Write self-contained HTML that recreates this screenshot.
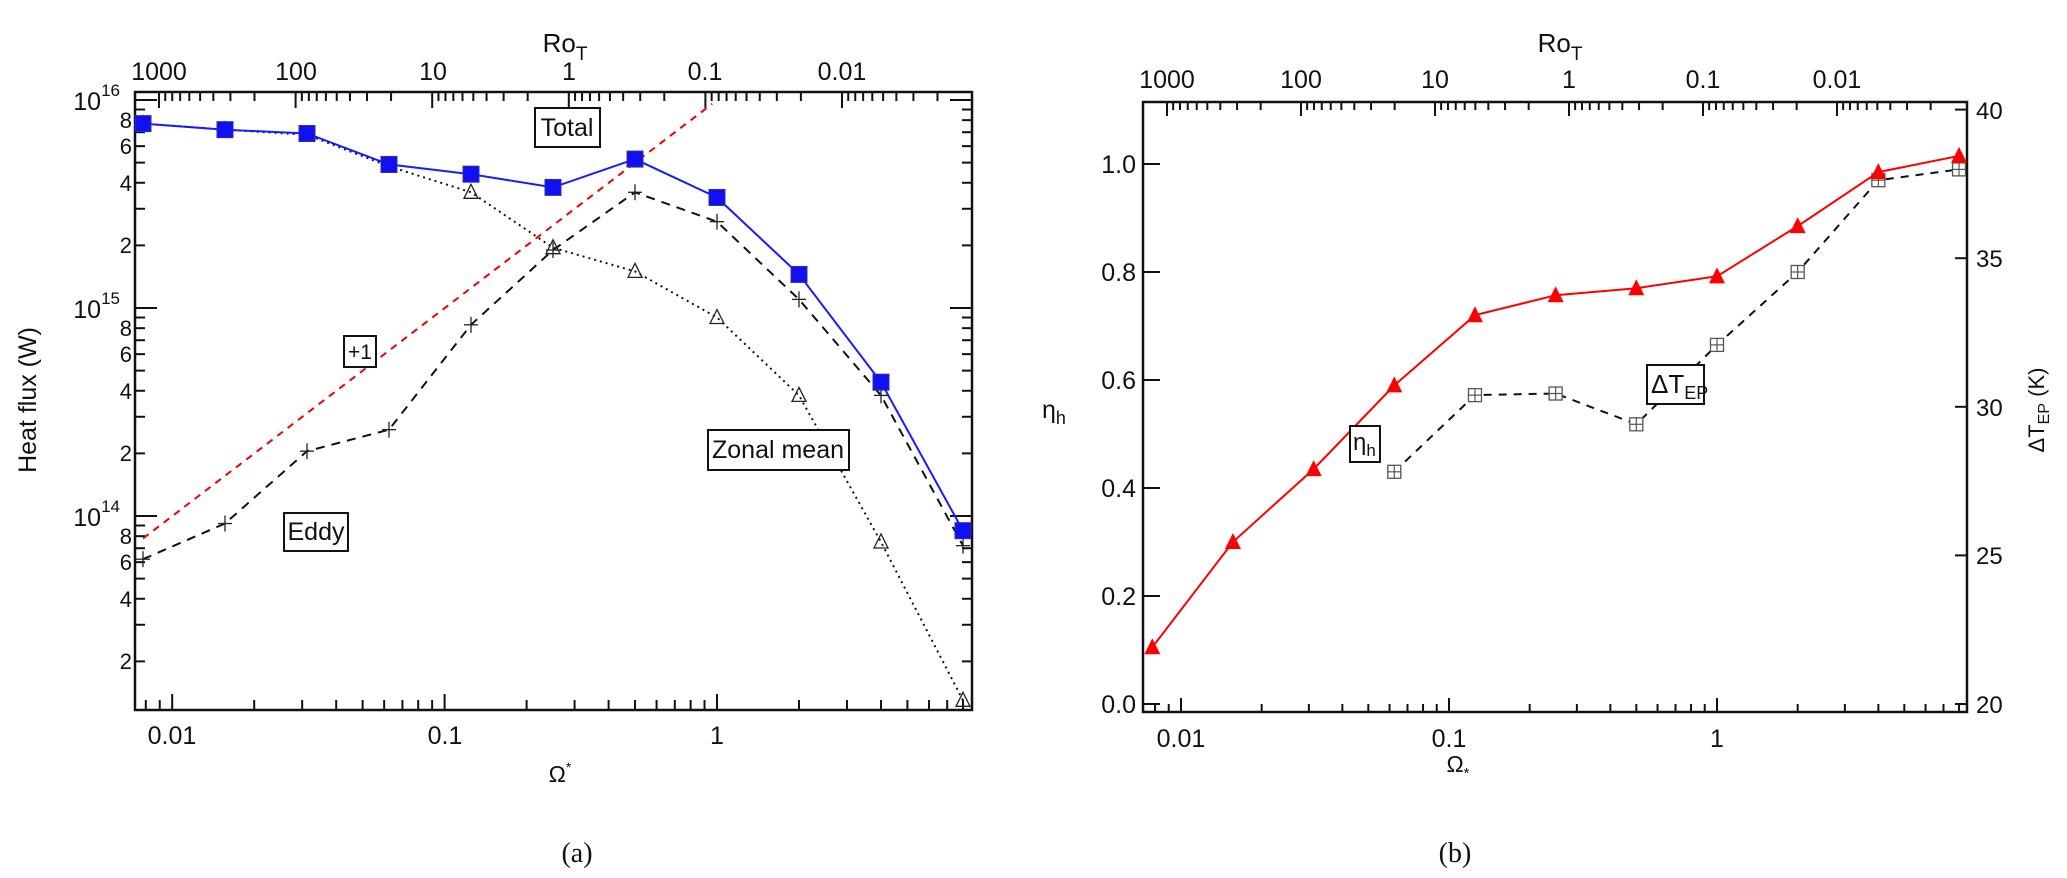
<!DOCTYPE html>
<html><head><meta charset="utf-8"><style>
html,body{margin:0;padding:0;background:#fff;}
svg{display:block;font-family:"Liberation Sans",sans-serif;}
</style></head><body>
<svg id="s" width="2067" height="878" viewBox="0 0 2067 878" xmlns="http://www.w3.org/2000/svg">
<rect width="2067" height="878" fill="#fff"/>
<g id="g"></g>
<g font-size="25" fill="#111">
<!-- LEFT PLOT text -->
<text x="565" y="52" text-anchor="middle" font-size="26">Ro<tspan font-size="19" dy="8">T</tspan></text>
<text x="159" y="80" text-anchor="middle">1000</text>
<text x="296" y="80" text-anchor="middle">100</text>
<text x="433" y="80" text-anchor="middle">10</text>
<text x="569" y="80" text-anchor="middle">1</text>
<text x="705" y="80" text-anchor="middle">0.1</text>
<text x="842" y="80" text-anchor="middle">0.01</text>
<text x="120" y="110" text-anchor="end">10<tspan font-size="17" dy="-14">16</tspan></text>
<text x="120" y="318" text-anchor="end">10<tspan font-size="17" dy="-14">15</tspan></text>
<text x="120" y="526" text-anchor="end">10<tspan font-size="17" dy="-14">14</tspan></text>
<g text-anchor="end" font-size="22">
<text x="132" y="128">8</text><text x="132" y="154">6</text><text x="132" y="191">4</text><text x="132" y="253">2</text>
<text x="132" y="336">8</text><text x="132" y="362">6</text><text x="132" y="399">4</text><text x="132" y="461">2</text>
<text x="132" y="544">8</text><text x="132" y="570">6</text><text x="132" y="607">4</text><text x="132" y="669">2</text>
</g>
<text transform="translate(36,400) rotate(-90)" text-anchor="middle" font-size="25">Heat flux (W)</text>
<text x="172" y="744" text-anchor="middle">0.01</text>
<text x="445" y="744" text-anchor="middle">0.1</text>
<text x="717" y="744" text-anchor="middle">1</text>
<text x="560" y="782" text-anchor="middle" font-size="23">Ω<tspan font-size="14" dy="-10">*</tspan></text>
<text x="577" y="862" text-anchor="middle" font-family="Liberation Serif,serif" font-size="28">(a)</text>
<rect x="535" y="108" width="65" height="39" fill="#fff" stroke="#111" stroke-width="2"/>
<text x="567" y="136" text-anchor="middle" font-size="25">Total</text>
<rect x="344" y="336" width="32" height="31" fill="#fff" stroke="#111" stroke-width="2"/>
<text x="360" y="359" text-anchor="middle" font-size="21">+1</text>
<rect x="708" y="430" width="141" height="40" fill="#fff" stroke="#111" stroke-width="2"/>
<text x="778" y="458" text-anchor="middle" font-size="25">Zonal mean</text>
<rect x="284" y="513" width="64" height="38" fill="#fff" stroke="#111" stroke-width="2"/>
<text x="316" y="540" text-anchor="middle" font-size="25">Eddy</text>

<!-- RIGHT PLOT text -->
<text x="1560" y="52" text-anchor="middle" font-size="26">Ro<tspan font-size="19" dy="8">T</tspan></text>
<text x="1167" y="88" text-anchor="middle">1000</text>
<text x="1301" y="88" text-anchor="middle">100</text>
<text x="1435" y="88" text-anchor="middle">10</text>
<text x="1569" y="88" text-anchor="middle">1</text>
<text x="1703" y="88" text-anchor="middle">0.1</text>
<text x="1837" y="88" text-anchor="middle">0.01</text>
<g text-anchor="end">
<text x="1136" y="713">0.0</text><text x="1136" y="605">0.2</text><text x="1136" y="497">0.4</text>
<text x="1136" y="389">0.6</text><text x="1136" y="281">0.8</text><text x="1136" y="173">1.0</text>
</g>
<g text-anchor="start" font-size="24">
<text x="1976" y="713">20</text><text x="1976" y="564">25</text><text x="1976" y="416">30</text>
<text x="1976" y="267">35</text><text x="1976" y="119">40</text>
</g>
<text x="1042" y="418" font-size="25">η<tspan font-size="18" dy="6">h</tspan></text>
<text transform="translate(2044,410) rotate(-90)" text-anchor="middle" font-size="22">ΔT<tspan font-size="16" dy="5">EP</tspan><tspan dy="-5"> (K)</tspan></text>
<text x="1181" y="747" text-anchor="middle">0.01</text>
<text x="1449" y="747" text-anchor="middle">0.1</text>
<text x="1717" y="747" text-anchor="middle">1</text>
<text x="1458" y="772" text-anchor="middle" font-size="23">Ω<tspan font-size="15" dy="6">*</tspan></text>
<text x="1455" y="862" text-anchor="middle" font-family="Liberation Serif,serif" font-size="28">(b)</text>
<rect x="1647" y="365" width="57" height="39" fill="#fff" stroke="#111" stroke-width="2"/>
<text x="1651" y="393" font-size="26">ΔT<tspan font-size="18" dy="6">EP</tspan></text>
<rect x="1350" y="426" width="30" height="36" fill="#fff" stroke="#111" stroke-width="2"/>
<text x="1353" y="450" font-size="24">η<tspan font-size="17" dy="6">h</tspan></text>
</g>
</svg>
<script>
(function(){
var NS="http://www.w3.org/2000/svg",g=document.getElementById('g');
function el(t,a){var e=document.createElementNS(NS,t);for(var k in a)e.setAttribute(k,a[k]);g.appendChild(e);return e;}
function ln(x1,y1,x2,y2,c,w){el('line',{x1:x1,y1:y1,x2:x2,y2:y2,stroke:c||'#111','stroke-width':w||2});}
function L10(v){return Math.log(v)/Math.LN10;}
var Xl=function(o){return 717+272.4*L10(o);}, Yl=function(v){return 308-208*(L10(v)-15);};
var om=[];for(var i=0;i<11;i++)om.push(Math.pow(2,i-7));
el('rect',{x:135,y:92,width:837,height:618,fill:'none',stroke:'#111','stroke-width':2.5});
for(var d=13;d<=16;d++)for(var m=1;m<=9;m++){var y=Yl(m*Math.pow(10,d));if(y<92||y>710)continue;var L=m==1?22:10;ln(135,y,135+L,y);ln(972,y,972-L,y);}
for(var d=-3;d<=0;d++)for(var m=1;m<=9;m++){var x=Xl(m*Math.pow(10,d));if(x<135||x>972)continue;var L=m==1?16:10;ln(x,710,x,710-L);}
var Xt=function(R){return 159+136.6*(3-L10(R));};
for(var d=-4;d<=3;d++)for(var m=1;m<=9;m++){var x=Xt(m*Math.pow(10,d));if(x<135||x>972)continue;var L=m==1?16:9;ln(x,92,x,92+L);}
var tot=[7.7e15,7.2e15,6.9e15,4.9e15,4.4e15,3.8e15,5.2e15,3.4e15,1.45e15,4.4e14,8.5e13];
var zon=[7.7e15,7.2e15,6.8e15,4.8e15,3.6e15,1.95e15,1.5e15,9e14,3.8e14,7.5e13,1.3e13];
var edd=[6.2e13,9.2e13,2.05e14,2.6e14,8.3e14,1.9e15,3.6e15,2.6e15,1.1e15,3.8e14,7.2e13];
function pl(arr,X,Y,c,w,da){var p=arr.map(function(v,i){return X(om[i]).toFixed(1)+','+Y(v).toFixed(1);}).join(' ');el('polyline',{points:p,fill:'none',stroke:c,'stroke-width':w,'stroke-dasharray':da||'none'});}
el('line',{x1:Xl(om[0]),y1:Yl(7.8e13),x2:Xl(0.96),y2:Yl(7.8e13*0.96/om[0]),stroke:'#e00','stroke-width':2,'stroke-dasharray':'7,6'});
pl(zon,Xl,Yl,'#111',2,'2,4');
pl(edd,Xl,Yl,'#111',2,'9,7');
pl(tot,Xl,Yl,'#1a1aff',2);
zon.forEach(function(v,i){var x=Xl(om[i]),y=Yl(v);el('polygon',{points:(x-7)+','+(y+6)+' '+x+','+(y-8)+' '+(x+7)+','+(y+6),fill:'none',stroke:'#222','stroke-width':1.3});});
edd.forEach(function(v,i){var x=Xl(om[i]),y=Yl(v);ln(x-7,y,x+7,y,'#222',1.3);ln(x,y-8,x,y+8,'#222',1.3);});
tot.forEach(function(v,i){var x=Xl(om[i]),y=Yl(v);el('rect',{x:x-8,y:y-8,width:16,height:16,fill:'#1010f0',stroke:'#3030a0','stroke-width':1});});
var Xr=function(o){return 1181+268*(L10(o)+2);}, Yr=function(v){return 704-540*v;};
el('rect',{x:1143,y:102,width:824,height:610,fill:'none',stroke:'#111','stroke-width':2.5});
for(var k=0;k<=5;k++){var y=Yr(k*0.2);ln(1143,y,1160,y);}
for(var k=0;k<=4;k++){var y=704-148.6*k;ln(1967,y,1955,y);}
for(var d=-3;d<=0;d++)for(var m=1;m<=9;m++){var x=Xr(m*Math.pow(10,d));if(x<1143||x>1967)continue;var L=m==1?14:8;ln(x,712,x,712-L);}
var Xt2=function(R){return 1167+134*(3-L10(R));};
for(var d=-4;d<=3;d++)for(var m=1;m<=9;m++){var x=Xt2(m*Math.pow(10,d));if(x<1143||x>1967)continue;var L=m==1?14:8;ln(x,102,x,102+L);}
var eta=[0.105,0.30,0.435,0.59,0.72,0.757,0.77,0.792,0.885,0.985,1.015];
var dt=[null,null,null,0.43,0.572,0.575,0.518,0.665,0.80,0.97,0.99];
var p=[];for(var i=3;i<11;i++)p.push(Xr(om[i]).toFixed(1)+','+Yr(dt[i]).toFixed(1));
el('polyline',{points:p.join(' '),fill:'none',stroke:'#111','stroke-width':2,'stroke-dasharray':'8,7'});
pl(eta,Xr,Yr,'#f00',2);
for(var i=3;i<11;i++){var x=Xr(om[i]),y=Yr(dt[i]);el('rect',{x:x-6.5,y:y-6.5,width:13,height:13,fill:'#fff',stroke:'#555','stroke-width':1.3});ln(x-6.5,y,x+6.5,y,'#555',1.2);ln(x,y-6.5,x,y+6.5,'#555',1.2);}
eta.forEach(function(v,i){var x=Xr(om[i]),y=Yr(v);el('polygon',{points:(x-8)+','+(y+7)+' '+x+','+(y-9)+' '+(x+8)+','+(y+7),fill:'#f00'});});
})();
</script>
</body></html>
